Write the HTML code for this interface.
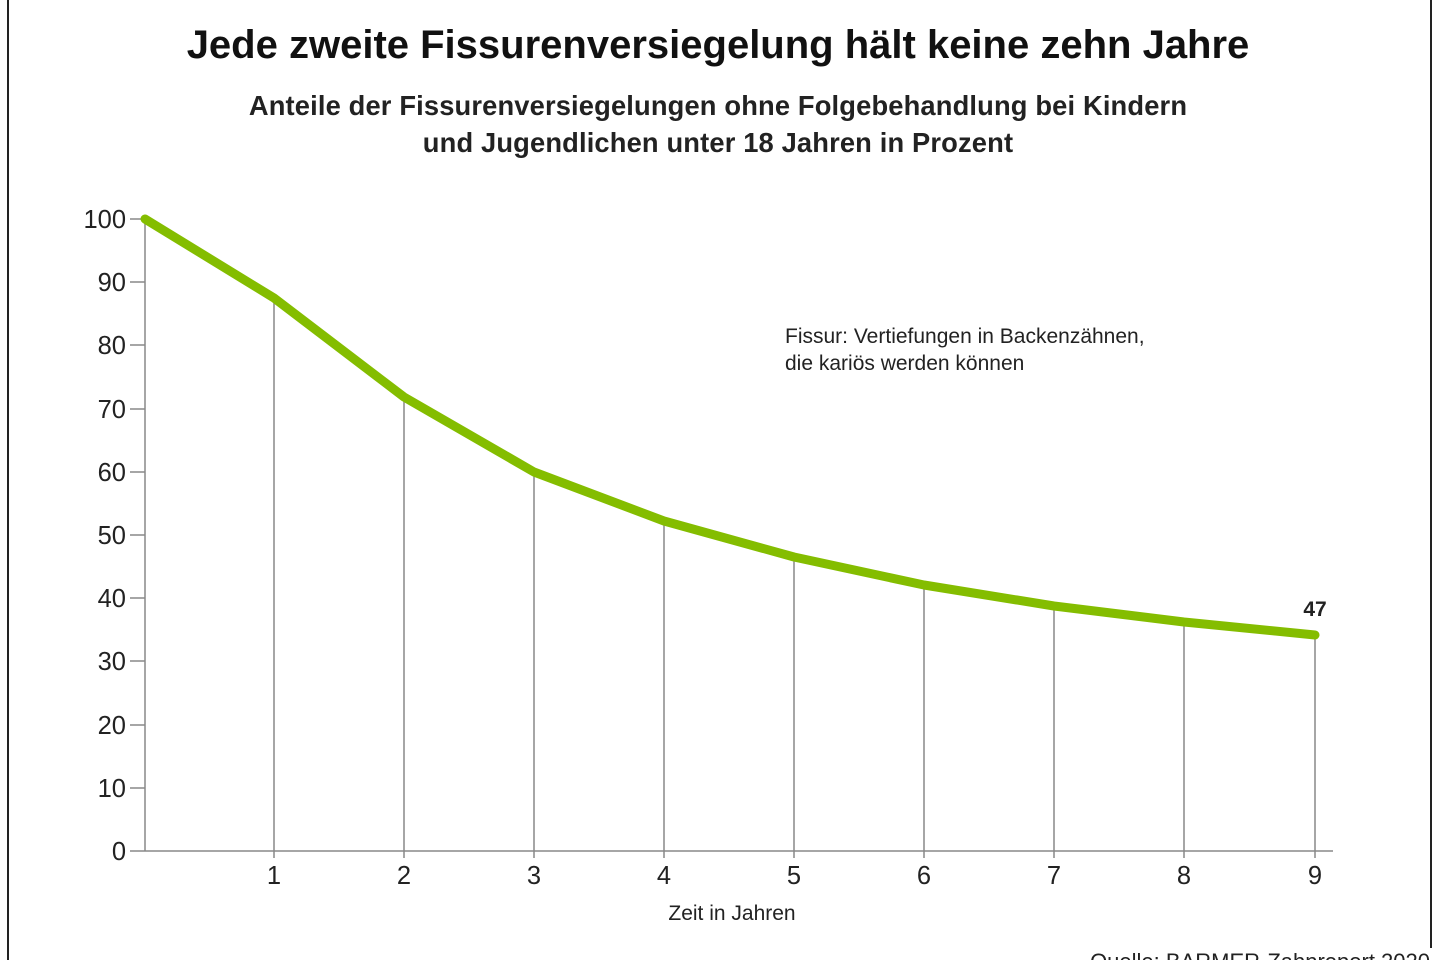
<!DOCTYPE html>
<html><head><meta charset="utf-8"><style>
body{margin:0;width:1440px;height:960px;background:#fff;overflow:hidden;font-family:"Liberation Sans","DejaVu Sans",sans-serif;}
</style></head><body>
<svg width="1440" height="960" viewBox="0 0 1440 960" xmlns="http://www.w3.org/2000/svg" font-family="Liberation Sans, DejaVu Sans, sans-serif">
<line x1="8" y1="0" x2="8" y2="960" stroke="#222" stroke-width="2"/>
<line x1="1431" y1="0" x2="1431" y2="948" stroke="#222" stroke-width="2"/>
<text x="718" y="58" text-anchor="middle" font-size="40" font-weight="bold" fill="#111">Jede zweite Fissurenversiegelung hält keine zehn Jahre</text>
<text x="718" y="115" text-anchor="middle" font-size="27.3" font-weight="bold" fill="#222" letter-spacing="0.15">Anteile der Fissurenversiegelungen ohne Folgebehandlung bei Kindern</text>
<text x="718" y="152" text-anchor="middle" font-size="27.3" font-weight="bold" fill="#222" letter-spacing="0.15">und Jugendlichen unter 18 Jahren in Prozent</text>
<g stroke="#888" stroke-width="1.5">
<line x1="145" y1="219" x2="145" y2="851"/>
<line x1="130" y1="851" x2="1333" y2="851"/>
<line x1="130" y1="219" x2="145" y2="219"/><line x1="130" y1="282" x2="145" y2="282"/><line x1="130" y1="345" x2="145" y2="345"/><line x1="130" y1="409" x2="145" y2="409"/><line x1="130" y1="472" x2="145" y2="472"/><line x1="130" y1="535" x2="145" y2="535"/><line x1="130" y1="598" x2="145" y2="598"/><line x1="130" y1="661" x2="145" y2="661"/><line x1="130" y1="725" x2="145" y2="725"/><line x1="130" y1="788" x2="145" y2="788"/>
<line x1="274" y1="298" x2="274" y2="858"/><line x1="404" y1="397" x2="404" y2="858"/><line x1="534" y1="472" x2="534" y2="858"/><line x1="664" y1="521" x2="664" y2="858"/><line x1="794" y1="557" x2="794" y2="858"/><line x1="924" y1="585" x2="924" y2="858"/><line x1="1054" y1="606" x2="1054" y2="858"/><line x1="1184" y1="622" x2="1184" y2="858"/><line x1="1315" y1="635" x2="1315" y2="858"/>
</g>
<g font-size="25.5" fill="#222" text-anchor="end">
<text x="126" y="228">100</text><text x="126" y="291">90</text><text x="126" y="354">80</text><text x="126" y="418">70</text><text x="126" y="481">60</text><text x="126" y="544">50</text><text x="126" y="607">40</text><text x="126" y="670">30</text><text x="126" y="734">20</text><text x="126" y="797">10</text><text x="126" y="860">0</text>
</g>
<g font-size="25.5" fill="#222" text-anchor="middle">
<text x="274" y="884">1</text><text x="404" y="884">2</text><text x="534" y="884">3</text><text x="664" y="884">4</text><text x="794" y="884">5</text><text x="924" y="884">6</text><text x="1054" y="884">7</text><text x="1184" y="884">8</text><text x="1315" y="884">9</text>
</g>
<text x="732" y="920" text-anchor="middle" font-size="21" fill="#222">Zeit in Jahren</text>
<text x="785" y="343" font-size="21" fill="#222">Fissur: Vertiefungen in Backenzähnen,</text>
<text x="785" y="370" font-size="21" fill="#222">die kariös werden können</text>
<text x="1315" y="616" text-anchor="middle" font-size="21" font-weight="bold" fill="#222">47</text>
<polyline points="145,219 274,298 404,397 534,472 664,521 794,557 924,585 1054,606 1184,622 1315,635" fill="none" stroke="#84bd00" stroke-width="9" stroke-linejoin="round" stroke-linecap="round"/>
<text x="1430" y="969" text-anchor="end" font-size="22" fill="#222">Quelle: BARMER-Zahnreport 2020</text>
</svg>
</body></html>
